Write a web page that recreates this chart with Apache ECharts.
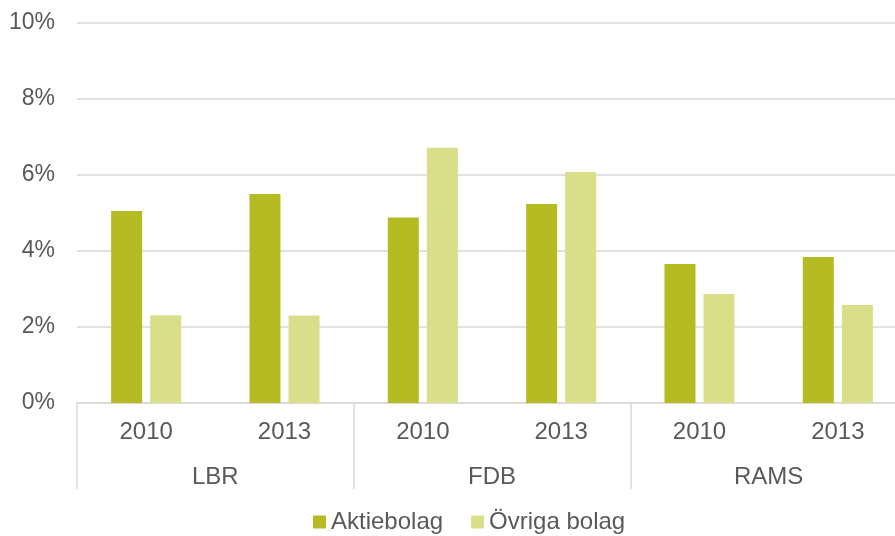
<!DOCTYPE html>
<html>
<head>
<meta charset="utf-8">
<script src="https://cdn.jsdelivr.net/npm/echarts@6/dist/echarts.min.js"></script>
<style>html,body{margin:0;padding:0;background:#fff;overflow:hidden;width:895px;height:536px;}#c{width:907px;height:536px;}</style>
</head>
<body>
<div id="c"></div>
<script>
const years = ['2010', '2013', '2010', '2013', '2010', '2013'];
const groups = ['LBR', 'FDB', 'RAMS'];
const aktiebolag = [5.05, 5.50, 4.88, 5.24, 3.66, 3.84];
const ovriga = [2.31, 2.30, 6.72, 6.08, 2.87, 2.58];
const yTicks = [0, 2, 4, 6, 8, 10];

const font = 'Liberation Sans, Arial, sans-serif';
const txt = '#595959';
const lineCol = '#d9d9d9';

const chart = echarts.init(document.getElementById('c'));
chart.setOption({
  animation: false,
  grid: { left: 77, right: 0, top: 23, bottom: 133, containLabel: false },
  legend: {
    bottom: -3, left: 308,
    itemWidth: 13, itemHeight: 13, itemGap: 28,
    icon: 'rect',
    textStyle: { color: txt, fontSize: 24, fontFamily: font },
    data: ['Aktiebolag', 'Övriga bolag']
  },
  xAxis: [
    {
      type: 'category', data: years, position: 'bottom',
      axisLine: { show: true, lineStyle: { color: lineCol, width: 1.5 } },
      axisTick: { show: false },
      axisLabel: { color: txt, fontSize: 24, fontFamily: font, margin: 17, interval: 0 }
    },
    {
      type: 'category', data: groups, position: 'bottom',
      axisLine: { show: false },
      axisTick: { show: true, length: 86, lineStyle: { color: lineCol, width: 1.5 } },
      axisLabel: { color: txt, fontSize: 24, fontFamily: font, margin: 62, interval: 0 }
    }
  ],
  yAxis: {
    type: 'value', min: 0, max: 10, interval: 2,
    axisLine: { show: false }, axisTick: { show: false },
    splitLine: { lineStyle: { color: lineCol, width: 1.5 } },
    axisLabel: {
      color: txt, fontSize: 23, fontFamily: font, margin: 22,
      formatter: v => yTicks.includes(v) ? v + '%' : ''
    }
  },
  series: [
    { name: 'Aktiebolag', type: 'bar', xAxisIndex: 0, data: aktiebolag, barWidth: 31, barGap: '26%',
      itemStyle: { color: '#B5BB23' } },
    { name: 'Övriga bolag', type: 'bar', xAxisIndex: 0, data: ovriga, barWidth: 31, barGap: '26%',
      itemStyle: { color: '#D9DE89' } }
  ]
});
</script>
</body>
</html>
